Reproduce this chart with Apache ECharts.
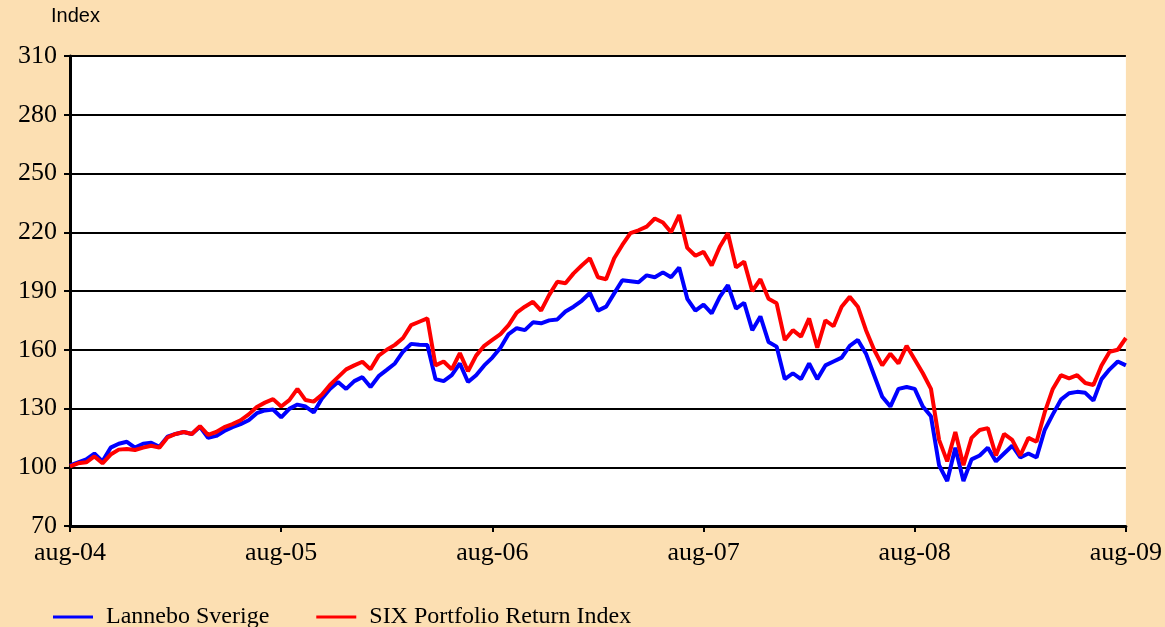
<!DOCTYPE html>
<html>
<head>
<meta charset="utf-8">
<script src="https://cdn.jsdelivr.net/npm/echarts@6/dist/echarts.min.js"></script>
<style>
html,body{margin:0;padding:0;background:#FCDFB2;}
#chart{width:1165px;height:627px;}
</style>
</head>
<body>
<div id="chart"></div>
<script>
// x tick labels (one per year, every 26 bi-weekly observations)
const tickLabels = ['aug-04','aug-05','aug-06','aug-07','aug-08','aug-09'];
const pointsPerYear = 26;

// Lannebo Sverige (bi-weekly, index)
const lannebo = [
101,102.5,104,107,103,110,112,113,110,112,
112.5,110.5,115.6,117,118,117,120.7,115,116,118.5,
120.5,122,124,127.6,129,129.5,125.5,129.8,132,131,
128,135,140,143.5,140,144,146,141,146.5,149.7,
153,159,163,162.5,162.4,145,144,147,153,143.5,
147,152,156,161,168,171,170,174,173.5,175,
175.5,179.5,182,185,189,180,182,188.8,195.5,195,
194.5,198,197,199.5,197,202,186,180,183,178.6,
187,193,181,184,170,177,164,161.6,145,148,
145,153,145,152,154,156,162,165,158,147,
136,131,140,141,140,131,126,101,93,110,
93,104,106,110,103,107,111,105,107,105,
119,127,134.5,137.8,138.5,138,134,145,150,154,
152
];

// SIX Portfolio Return Index (bi-weekly, index)
const six = [
100.5,102,102.5,105.5,102,106.5,109,109.3,108.8,110,
111,110,115.2,117,118,117,121,116.5,118,120.5,
122,124,127,130.8,133,134.8,131,134.3,140,134.3,
133.5,137,142,146,150,152,153.9,150,157,160,
162.5,166,172.6,174.3,176,152,154,150,158.3,149,
157,162,165,168,172.6,179,182,184.5,180,188,
194.7,194,199,203,206.7,197,196,206.7,213.5,219.5,
221,222.9,227,225,220,228.8,212,208,210,203,
212.6,219.5,202,205,190,196,186,183.7,165,170,
166.7,176,161,175,172,182,187,182,170,160,
152,158,153,162,155,148,140,114,103,118,
101,115,119,120,106,117,114,106,115,113,
128,140,147,145.4,147,143,142,152,159,160,
166
];

const categories = lannebo.map((v, i) => i);

const serif = 'Liberation Serif, Times New Roman, serif';
const chart = echarts.init(document.getElementById('chart'), null, {renderer: 'canvas'});
chart.setOption({
  backgroundColor: '#FCDFB2',
  animation: false,
  graphic: [{
    type: 'text', left: 51, top: 6,
    style: {text: 'Index', font: '20px Liberation Sans, Arial, sans-serif', fill: '#000'}
  }],
  legend: {
    left: 53, top: 605, padding: 0,
    itemWidth: 40, itemHeight: 3, itemGap: 47,
    icon: 'rect',
    textStyle: {fontFamily: serif, fontSize: 24, color: '#000', padding: [0,0,0,8]},
    data: ['Lannebo Sverige', 'SIX Portfolio Return Index']
  },
  grid: {left: 70, right: 38, top: 56, bottom: 101, show: true, backgroundColor: '#fff', borderWidth: 0, containLabel: false},
  xAxis: {
    type: 'category', data: categories, boundaryGap: false,
    axisLine: {lineStyle: {color: '#000', width: 3}},
    axisTick: {show: true, length: 6, lineStyle: {color: '#000', width: 2},
      interval: (idx) => idx % pointsPerYear === 0},
    axisLabel: {
      interval: (idx) => idx % pointsPerYear === 0,
      formatter: (v, idx) => tickLabels[idx / pointsPerYear] || '',
      fontFamily: serif, fontSize: 26, color: '#000', margin: 14
    },
    splitLine: {show: false}
  },
  yAxis: {
    type: 'value', min: 70, max: 310, interval: 30,
    axisLine: {show: true, lineStyle: {color: '#000', width: 3}},
    axisTick: {show: true, length: 6, lineStyle: {color: '#000', width: 2}},
    axisLabel: {fontFamily: serif, fontSize: 26, color: '#000', margin: 13},
    splitLine: {show: true, lineStyle: {color: '#000', width: 2}}
  },
  series: [
    {name: 'Lannebo Sverige', type: 'line', data: lannebo, showSymbol: false, symbol: 'none',
     color: '#0000FF', lineStyle: {color: '#0000FF', width: 4}},
    {name: 'SIX Portfolio Return Index', type: 'line', data: six, showSymbol: false, symbol: 'none',
     color: '#FF0000', lineStyle: {color: '#FF0000', width: 4}}
  ]
});
</script>
</body>
</html>
